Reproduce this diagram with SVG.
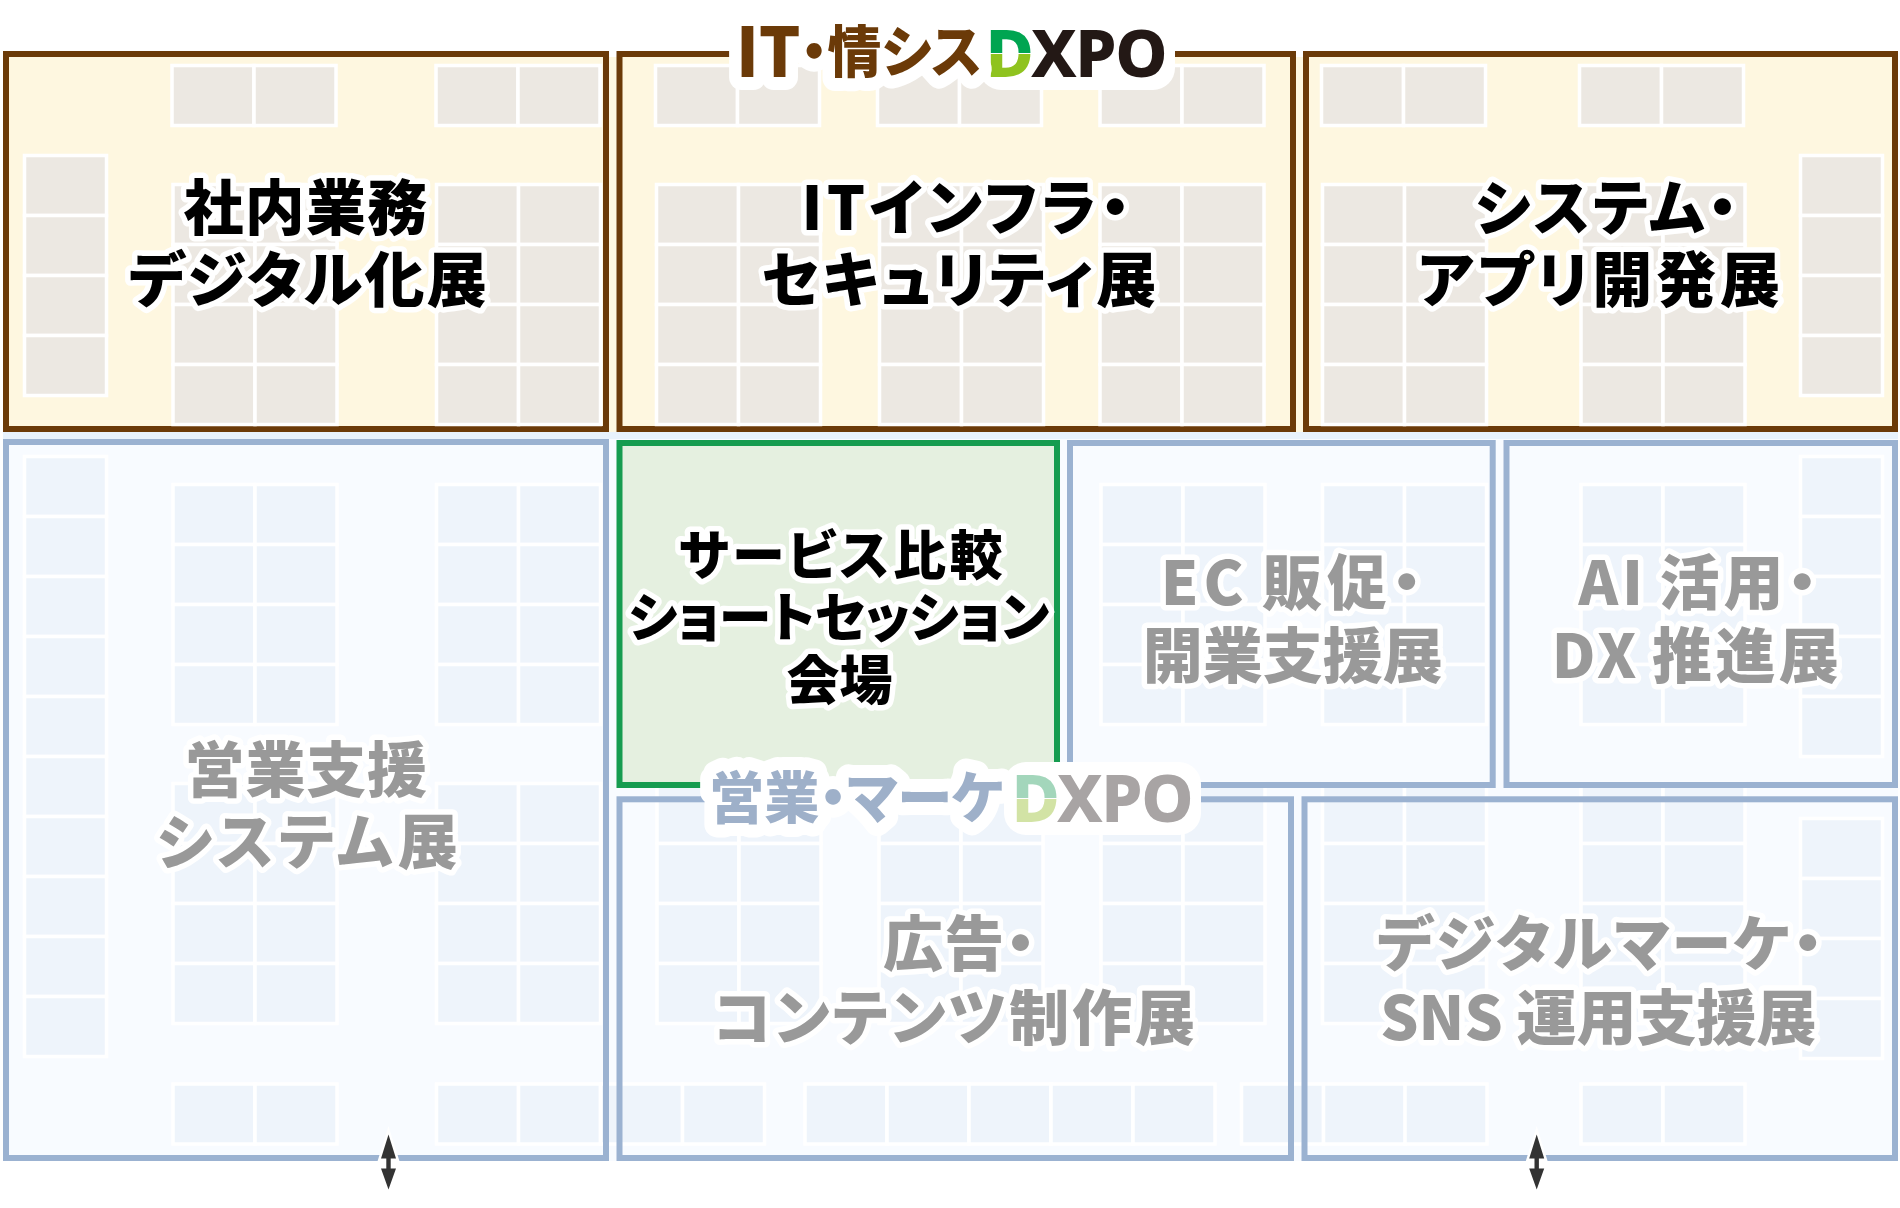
<svg xmlns="http://www.w3.org/2000/svg" xmlns:xlink="http://www.w3.org/1999/xlink" width="1900" height="1208" viewBox="0 0 1900 1208">
<style>
text{font-family:"Noto Sans CJK JP","Noto Sans",sans-serif;font-weight:900;font-feature-settings:"palt";paint-order:stroke;stroke:#fff;stroke-linejoin:round;text-anchor:middle}
.l{font-size:60px;stroke-width:11px}
.m{font-size:53px;stroke-width:11px}
.k{fill:#000}
.g{fill:#999}
.f{stroke-width:6;fill:none}
.top{fill:#fef7e0;stroke:#6b3a08}
.blue{stroke:#9bb2d1}
.green{fill:#e5f0e0;stroke:#169c50}
rect.c{width:82px;height:60px}
.cells use,.cells rect{stroke:#fff;stroke-width:3.5}
.cream{fill:#ece8e2}
.sky{fill:#eef4fb}
.logo{font-size:56px;stroke-width:26px;text-anchor:start}
.dx{font-family:"Noto Sans",sans-serif;font-weight:800;font-size:66px;font-feature-settings:normal;letter-spacing:-1.500px;stroke:none}
.pad{fill:#fff}
</style>
<defs>
<g id="c2"><rect class="c"/><rect class="c" x="82"/></g>
<g id="c8"><use xlink:href="#c2"/><use xlink:href="#c2" y="60"/><use xlink:href="#c2" y="120"/><use xlink:href="#c2" y="180"/></g>
<g id="v4"><rect class="c"/><rect class="c" y="60"/><rect class="c" y="120"/><rect class="c" y="180"/></g>
<linearGradient id="dTop" gradientUnits="userSpaceOnUse" x1="0" y1="30" x2="0" y2="77"><stop offset=".49" stop-color="#00a551"/><stop offset=".49" stop-color="#fff"/><stop offset=".52" stop-color="#fff"/><stop offset=".52" stop-color="#8fc31f"/></linearGradient>
<linearGradient id="dLow" gradientUnits="userSpaceOnUse" x1="0" y1="775" x2="0" y2="822"><stop offset=".49" stop-color="#a3d6bb"/><stop offset=".49" stop-color="#fff"/><stop offset=".52" stop-color="#fff"/><stop offset=".52" stop-color="#d2e3a5"/></linearGradient>
<path id="updown" d="M0-27 7.500-3H2.200V7H7.500L0 28-7.500 7H-2.200V-3H-7.500Z"/>
</defs>

<rect x="3" y="57" width="1895" height="375" fill="#fef7e0"/>
<rect x="3" y="432" width="1895" height="729" fill="#f8fbff"/>
<rect x="3" y="432" width="1895" height="7" fill="#e8f2fc"/>

<g id="floor-booths" class="cells sky">
<use xlink:href="#v4" x="24.500" y="456.500"/><use xlink:href="#v4" x="24.500" y="696.500"/><rect class="c" x="24.500" y="936.500"/><rect class="c" x="24.500" y="996.500"/>
<use xlink:href="#c8" x="173" y="484.500"/><use xlink:href="#c8" x="436.500" y="484.500"/>
<use xlink:href="#c8" x="173" y="783.500"/><use xlink:href="#c8" x="436.500" y="783.500"/>
<use xlink:href="#c8" x="1101" y="484.500"/><use xlink:href="#c8" x="1322.500" y="484.500"/><use xlink:href="#c8" x="1581" y="484.500"/>
<use xlink:href="#v4" x="1800.500" y="456.500"/><rect class="c" x="1800.500" y="696.500"/>
<use xlink:href="#c8" x="657" y="783.500"/><use xlink:href="#c8" x="879" y="783.500"/><use xlink:href="#c8" x="1101" y="783.500"/><use xlink:href="#c8" x="1322.500" y="783.500"/><use xlink:href="#c8" x="1581" y="783.500"/>
<use xlink:href="#v4" x="1800.500" y="818.500"/>
<use xlink:href="#c2" x="173" y="1084"/><use xlink:href="#c2" x="436.500" y="1084"/><use xlink:href="#c2" x="600.500" y="1084"/>
<use xlink:href="#c2" x="805" y="1084"/><use xlink:href="#c2" x="969" y="1084"/><rect class="c" x="1133" y="1084"/>
<use xlink:href="#c2" x="1241.500" y="1084"/><rect class="c" x="1405" y="1084"/><use xlink:href="#c2" x="1581" y="1084"/>
</g>

<g id="node-shanai">
<rect class="f top" x="6" y="54" width="600" height="375"/>
<g class="cells cream"><use xlink:href="#c2" x="172" y="65.500"/><use xlink:href="#c2" x="436" y="65.500"/><use xlink:href="#v4" x="24.500" y="155.500"/><use xlink:href="#c8" x="173" y="184.500"/><use xlink:href="#c8" x="436.500" y="184.500"/></g>
<text class="l k" x="306" y="230" letter-spacing="1.200">社内業務</text>
<text class="l k" x="308.700" y="302" letter-spacing="2.200">デジタル化展</text>
</g>
<g id="node-it-infra">
<rect class="f top" x="619.500" y="54" width="673.500" height="375"/>
<g class="cells cream"><use xlink:href="#c2" x="655.500" y="65.500"/><use xlink:href="#c2" x="877.500" y="65.500"/><use xlink:href="#c2" x="1100" y="65.500"/><use xlink:href="#c8" x="656.500" y="184.500"/><use xlink:href="#c8" x="879.500" y="184.500"/><use xlink:href="#c8" x="1100" y="184.500"/></g>
<text class="l k" x="968" y="230" letter-spacing="4.200">ITインフラ・</text>
<text class="l k" x="960.400" y="302" letter-spacing="3.200">セキュリティ展</text>
</g>
<g id="node-system">
<rect class="f top" x="1306" y="54" width="589" height="375"/>
<g class="cells cream"><use xlink:href="#c2" x="1321.500" y="65.500"/><use xlink:href="#c2" x="1579.500" y="65.500"/><use xlink:href="#c8" x="1322.500" y="184.500"/><use xlink:href="#c8" x="1581" y="184.500"/><use xlink:href="#v4" x="1800.500" y="155.500"/></g>
<text class="l k" x="1607.700" y="230" letter-spacing="3">システム・</text>
<text class="l k" x="1600.800" y="302" letter-spacing="3.900">アプリ開発展</text>
</g>

<g id="node-eigyo">
<rect class="f blue" x="6" y="442" width="600" height="716"/>
<text class="l g" x="306.200" y="792" letter-spacing=".800">営業支援</text>
<text class="l g" x="309.600" y="864" letter-spacing="5.100">システム展</text>
</g>
<g id="node-short-session">
<rect class="f green" x="619.500" y="443" width="437.500" height="342"/>
<text class="m k" x="842.400" y="575" letter-spacing="3.600">サービス比較</text>
<text class="m k" x="838.600" y="637" letter-spacing="-.300">ショートセッション</text>
<text class="m k" x="839.400" y="700">会場</text>
</g>
<g id="node-ec">
<rect class="f blue" x="1070" y="443" width="422.700" height="342"/>
<text class="l g" x="1293.800" y="605" letter-spacing="4.900" word-spacing="-5">EC 販促・</text>
<text class="l g" x="1292.800" y="678">開業支援展</text>
</g>
<g id="node-ai">
<rect class="f blue" x="1506.500" y="443" width="388.500" height="342"/>
<text class="l g" x="1699.900" y="605" letter-spacing="3.900" word-spacing="-5">AI 活用・</text>
<text class="l g" x="1697" y="678" letter-spacing="3.400" word-spacing="-5">DX 推進展</text>
</g>
<g id="node-ad">
<rect class="f blue" x="619.500" y="799.300" width="671.500" height="358.700"/>
<text class="l g" x="959.800" y="966" letter-spacing="1.200">広告・</text>
<text class="l g" x="955.500" y="1040" letter-spacing="2.900">コンテンツ制作展</text>
</g>
<g id="node-digital">
<rect class="f blue" x="1304.500" y="799.300" width="590.500" height="358.700"/>
<text class="l g" x="1601.100" y="966" letter-spacing="2.600">デジタルマーケ・</text>
<text class="l g" x="1598.400" y="1040">SNS 運用支援展</text>
</g>

<g id="logo-it">
<rect class="pad" x="979" y="17" width="196" height="73" rx="22"/>
<text class="logo dx" x="985.500" y="77" fill="#231815"><tspan fill="url(#dTop)">D</tspan>XPO</text>
<text class="logo" x="736" y="72" fill="#6b3a08" textLength="246" lengthAdjust="spacingAndGlyphs"><tspan font-size="68" dy="5">IT</tspan><tspan dy="-5">・情シス</tspan></text>
</g>
<g id="logo-eigyo">
<rect class="pad" x="1004" y="762" width="197" height="73" rx="22"/>
<text class="logo dx" x="1011.500" y="822" fill="#a8a4a4"><tspan fill="url(#dLow)">D</tspan>XPO</text>
<text class="logo" x="709" y="818" fill="#9eb0c9" textLength="295" lengthAdjust="spacingAndGlyphs">営業・マーケ</text>
</g>

<g id="connectors" fill="#333" stroke="#fff" stroke-width="5" paint-order="stroke">
<use xlink:href="#updown" x="388.500" y="1161.500"/>
<use xlink:href="#updown" x="1536.700" y="1161.500"/>
</g>
</svg>
